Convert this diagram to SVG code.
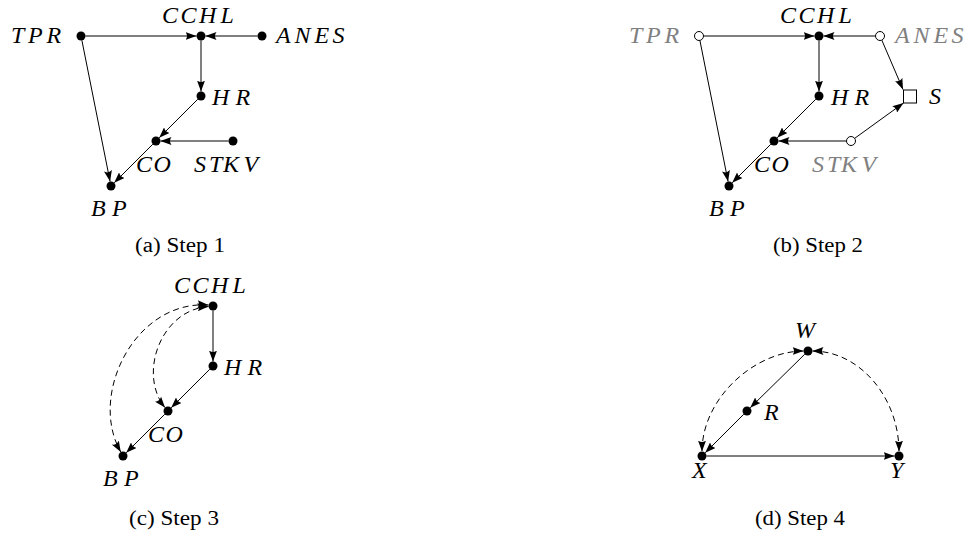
<svg xmlns="http://www.w3.org/2000/svg" width="971" height="535" viewBox="0 0 971 535">
<style>
.lbl{font-family:"Liberation Serif",serif;font-style:italic;font-size:24px;fill:#000}
.gry{fill:#808080}
.cap{font-family:"Liberation Serif",serif;font-size:20.5px;fill:#000}
.e{fill:none;stroke:#000;stroke-width:1;marker-end:url(#ah)}
.d{fill:none;stroke:#000;stroke-width:1;stroke-dasharray:6,4;marker-end:url(#ah);marker-start:url(#ah)}
.dot{fill:#000}
.open{fill:#fff;stroke:#000;stroke-width:1}
</style>
<defs>
<marker id="ah" viewBox="0 0 11 8" refX="11" refY="4" markerWidth="11" markerHeight="8" markerUnits="userSpaceOnUse" orient="auto-start-reverse">
<path d="M0,0 Q3,4 0,8 L11,4 Z" fill="#000"/>
</marker>
</defs>
<rect width="971" height="535" fill="#fff"/>

<g id="connectors">
<!-- (a) -->
<path class="e" d="M85.5,36 L196.5,36"/>
<path class="e" d="M257.5,36 L205.5,36"/>
<path class="e" d="M201,40.5 L201,91.5"/>
<path class="e" d="M197.8,99.2 L159.2,137.8"/>
<path class="e" d="M228.5,141 L160.5,141"/>
<path class="e" d="M152.8,144.2 L114.2,182.8"/>
<path class="e" d="M81.9,40.4 L110.1,181.6"/>
<!-- (b) -->
<path class="e" d="M703.5,36 L814.5,36"/>
<path class="e" d="M875.5,36 L823.5,36"/>
<path class="e" d="M819,40.5 L819,91.5"/>
<path class="e" d="M815.8,99.2 L777.2,137.8"/>
<path class="e" d="M846.5,141 L778.5,141"/>
<path class="e" d="M770.8,144.2 L732.2,182.8"/>
<path class="e" d="M699.9,40.4 L728.1,181.6"/>
<path class="e" d="M881.8,40.1 L903,89.5"/>
<path class="e" d="M854.6,138.4 L903.5,103"/>
<!-- (c) -->
<path class="e" d="M213,310.5 L213,361.5"/>
<path class="e" d="M209.8,369.2 L171.2,407.8"/>
<path class="e" d="M164.8,414.2 L126.2,452.8"/>
<path class="d" d="M208.5,306.5 C160,310 138,375 165,407.6"/>
<path class="d" d="M208.5,305 C135,300 88,395 120.8,452.1"/>
<!-- (d) -->
<path class="e" d="M804.8,354.2 L750.2,407.8"/>
<path class="e" d="M743.8,414.2 L705.2,452.8"/>
<path class="e" d="M706.5,456 L894.5,456"/>
<path class="d" d="M803.5,351 C755,351 702,398 702,451.5"/>
<path class="d" d="M812.5,351 C860,351 899,398 899,451.5"/>
</g>

<!-- panel (a) nodes -->
<g id="a-TPR"><circle class="dot" cx="81" cy="36" r="4.5"/><text class="lbl" x="11 28 46.5" y="43">TPR</text></g>
<g id="a-CCHL"><circle class="dot" cx="201" cy="36" r="4.5"/><text class="lbl" x="162 180.5 199 220.5" y="23">CCHL</text></g>
<g id="a-ANES"><circle class="dot" cx="262" cy="36" r="4.5"/><text class="lbl" x="276 294.5 314.5 332.5" y="43">ANES</text></g>
<g id="a-HR"><circle class="dot" cx="201" cy="96" r="4.5"/><text class="lbl" x="212 235.5" y="105">HR</text></g>
<g id="a-CO"><circle class="dot" cx="156" cy="141" r="4.5"/><text class="lbl" x="136 153.5" y="172">CO</text></g>
<g id="a-STKV"><circle class="dot" cx="233" cy="141" r="4.5"/><text class="lbl" x="194 209 223 243.5" y="172">STKV</text></g>
<g id="a-BP"><circle class="dot" cx="111" cy="186" r="4.5"/><text class="lbl" x="91 112" y="216">BP</text></g>
<text class="cap" x="135" y="252" textLength="90" lengthAdjust="spacingAndGlyphs">(a) Step 1</text>

<!-- panel (b) nodes -->
<g id="b-TPR"><circle class="open" cx="699" cy="36" r="4.5"/><text class="lbl gry" x="629 646 664.5" y="43">TPR</text></g>
<g id="b-CCHL"><circle class="dot" cx="819" cy="36" r="4.5"/><text class="lbl" x="780 798.5 817 838.5" y="23">CCHL</text></g>
<g id="b-ANES"><circle class="open" cx="880" cy="36" r="4.5"/><text class="lbl gry" x="895 913.5 933.5 951.5" y="43">ANES</text></g>
<g id="b-HR"><circle class="dot" cx="819" cy="96" r="4.5"/><text class="lbl" x="831 854.5" y="105">HR</text></g>
<g id="b-CO"><circle class="dot" cx="774" cy="141" r="4.5"/><text class="lbl" x="754 771.5" y="172">CO</text></g>
<g id="b-STKV"><circle class="open" cx="851" cy="141" r="4.5"/><text class="lbl gry" x="812 827 841 861.5" y="172">STKV</text></g>
<g id="b-BP"><circle class="dot" cx="729" cy="186" r="4.5"/><text class="lbl" x="709 730" y="216">BP</text></g>
<g id="b-S"><rect x="903.5" y="90" width="13" height="13" fill="#fff" stroke="#000" stroke-width="1"/><text class="lbl" x="929" y="104">S</text></g>
<text class="cap" x="773" y="252" textLength="90" lengthAdjust="spacingAndGlyphs">(b) Step 2</text>

<!-- panel (c) nodes -->
<g id="c-CCHL"><circle class="dot" cx="213" cy="306" r="4.5"/><text class="lbl" x="174 192.5 211 232.5" y="293">CCHL</text></g>
<g id="c-HR"><circle class="dot" cx="213" cy="366" r="4.5"/><text class="lbl" x="224 247.5" y="375">HR</text></g>
<g id="c-CO"><circle class="dot" cx="168" cy="411" r="4.5"/><text class="lbl" x="148 165.5" y="442">CO</text></g>
<g id="c-BP"><circle class="dot" cx="123" cy="456" r="4.5"/><text class="lbl" x="103 124" y="486">BP</text></g>
<text class="cap" x="129" y="525" textLength="90" lengthAdjust="spacingAndGlyphs">(c) Step 3</text>

<!-- panel (d) nodes -->
<g id="d-W"><circle class="dot" cx="808" cy="351" r="4.5"/><text class="lbl" x="795" y="338">W</text></g>
<g id="d-R"><circle class="dot" cx="747" cy="411" r="4.5"/><text class="lbl" x="764" y="420">R</text></g>
<g id="d-X"><circle class="dot" cx="702" cy="456" r="4.5"/><text class="lbl" x="692" y="478">X</text></g>
<g id="d-Y"><circle class="dot" cx="899" cy="456" r="4.5"/><text class="lbl" x="890" y="478">Y</text></g>
<text class="cap" x="755" y="525" textLength="90" lengthAdjust="spacingAndGlyphs">(d) Step 4</text>
</svg>
